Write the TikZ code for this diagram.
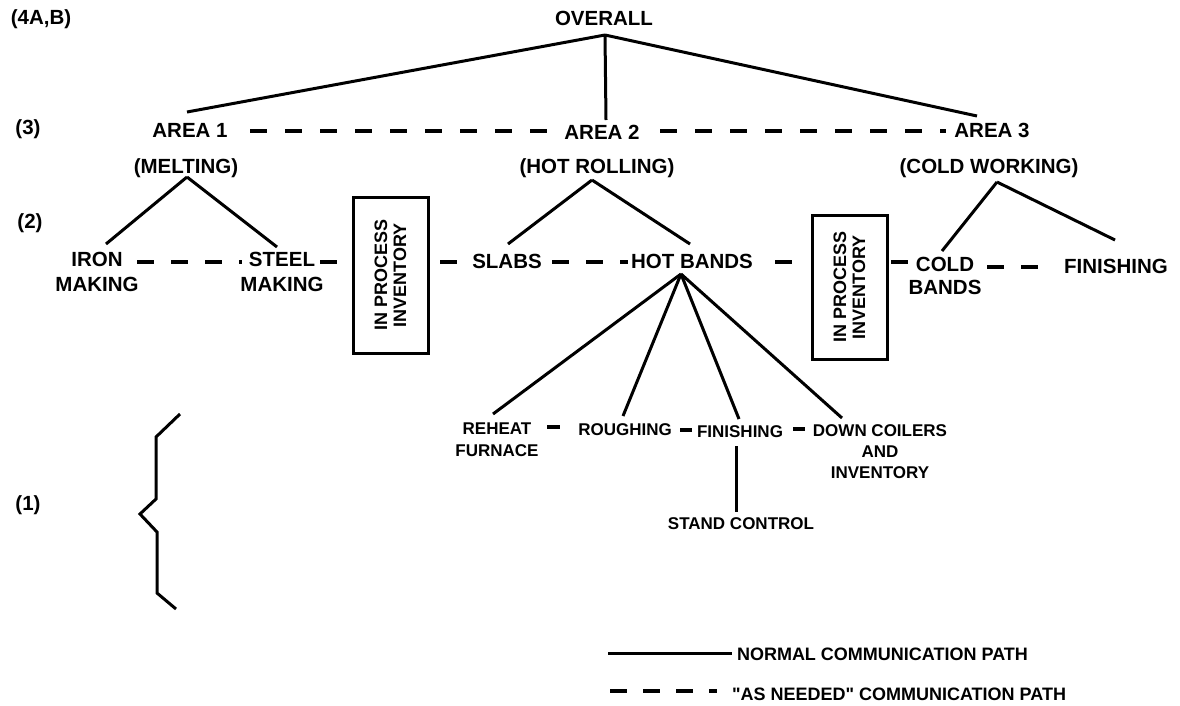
\documentclass[tikz,border=0pt]{standalone}
\usepackage{fontspec}
\setmainfont{Liberation Sans}
% same face without TeX quote ligatures, for straight double quotes
\newfontfamily\straightsans{Liberation Sans}[Ligatures=ResetAll]
\begin{document}
\begin{tikzpicture}[x=1pt,y=-1pt,
  every node/.style={inner sep=0pt, outer sep=0pt},
  big/.style={font=\bfseries\fontsize{20.5}{25}\selectfont, align=center},
  small/.style={font=\bfseries\fontsize{17}{22}\selectfont, align=center},
  legendtext/.style={font=\straightsans\bfseries\fontsize{18}{22}\selectfont},
  invbox/.style={draw, line width=3pt, rotate=90, align=center,
    font=\bfseries\fontsize{18}{19}\selectfont},
  normal/.style={line width=3pt},
  asneeded/.style={line width=4pt, dash pattern=on 17pt off 17pt}
]
\useasboundingbox (0,0) rectangle (1180,705);

% level markers
\node[big, anchor=base] (lvl4) at (41,24) {(4A,B)};
\node[big, anchor=base] (lvl3) at (28,134) {(3)};
\node[big, anchor=base] (lvl2) at (30,228) {(2)};
\node[big, anchor=base] (lvl1) at (28,510) {(1)};

% level 4 and 3
\node[big, anchor=base] (overall) at (604,25) {OVERALL};
\node[big, anchor=base] (area1) at (190,137) {AREA 1};
\node[big, anchor=base] (area2) at (602,139) {AREA 2};
\node[big, anchor=base] (area3) at (992,137) {AREA 3};
\node[big, anchor=base] (melting) at (186,173) {(MELTING)};
\node[big, anchor=base] (hotroll) at (597,173) {(HOT ROLLING)};
\node[big, anchor=base] (coldwork) at (989,173) {(COLD WORKING)};

% level 2
\node[big, anchor=south] (iron) at (97,292) {IRON\\MAKING};
\node[big, anchor=south] (steel) at (282,292) {STEEL\\MAKING};
\node[invbox, minimum width=156pt, minimum height=75pt] (inv1) at (390.5,275) {IN PROCESS\\INVENTORY};
\node[big, anchor=base] (slabs) at (507,268) {SLABS};
\node[big, anchor=base] (hotbands) at (692,268) {HOT BANDS};
\node[invbox, minimum width=144pt, minimum height=75pt] (inv2) at (849.5,287) {IN PROCESS\\INVENTORY};
\node[big, anchor=south, font=\bfseries\fontsize{20.5}{23}\selectfont] (cold) at (945,295) {COLD\\BANDS};
\node[big, anchor=base] (finish2) at (1116,273) {FINISHING};

% level 1
\node[small, anchor=south] (reheat) at (497,457) {REHEAT\\FURNACE};
\node[small, anchor=base] (rough) at (625,435) {ROUGHING};
\node[small, anchor=base] (finish1) at (740,437) {FINISHING};
\node[small, anchor=south, font=\bfseries\fontsize{17}{21}\selectfont] (coilers) at (880,479) {DOWN COILERS\\AND\\INVENTORY};
\node[small, anchor=base] (stand) at (741,529) {STAND CONTROL};

% connector end points
\coordinate (overall-s) at (605,35);
\coordinate (area1-n) at (187,112);
\coordinate (area2-n) at (606,120);
\coordinate (area3-n) at (977,116);
\coordinate (melting-s) at (187,177);
\coordinate (iron-n) at (106,244);
\coordinate (steel-n) at (277,247);
\coordinate (hotroll-s) at (592,180);
\coordinate (slabs-n) at (508,244);
\coordinate (hotbands-n) at (690,244);
\coordinate (coldwork-s) at (997,182);
\coordinate (cold-n) at (942,251);
\coordinate (finish2-n) at (1115,240);
\coordinate (hotbands-s) at (681,274);
\coordinate (reheat-n) at (493,414);
\coordinate (rough-n) at (623,416);
\coordinate (finish1-n) at (739,419);
\coordinate (coilers-n) at (842,418);
\coordinate (finish1-s) at (736,446);
\coordinate (stand-n) at (736,512);

% normal communication paths
\draw[normal] (overall-s) -- (area1-n);
\draw[normal] (overall-s) -- (area2-n);
\draw[normal] (overall-s) -- (area3-n);
\draw[normal] (melting-s) -- (iron-n);
\draw[normal] (melting-s) -- (steel-n);
\draw[normal] (hotroll-s) -- (slabs-n);
\draw[normal] (hotroll-s) -- (hotbands-n);
\draw[normal] (coldwork-s) -- (cold-n);
\draw[normal] (coldwork-s) -- (finish2-n);
\draw[normal] (hotbands-s) -- (reheat-n);
\draw[normal] (hotbands-s) -- (rough-n);
\draw[normal] (hotbands-s) -- (finish1-n);
\draw[normal] (hotbands-s) -- (coilers-n);
\draw[normal] (finish1-s) -- (stand-n);

% "as needed" communication paths
\coordinate (a1e) at (250,131);
\coordinate (a2w) at (547,131);
\coordinate (a2e) at (660,131);
\coordinate (a3w) at (946,131);
\draw[asneeded, dash pattern=on 17pt off 18pt] (a1e) -- (a2w);
\draw[asneeded, dash pattern=on 17pt off 18pt] (a2e) -- (a3w);
\draw[asneeded] (137,262) coordinate (ironE) -- (242,262) coordinate (steelW);
\draw[asneeded] (320,262) coordinate (steelE) -- (inv1.north |- 0,262);
\draw[asneeded] (inv1.south |- 0,262) ++(12,0) -- (457,262) coordinate (slabsW);
\draw[asneeded] (552,262) coordinate (slabsE) -- (628,262) coordinate (hotbandsW);
\draw[asneeded] (775,262) coordinate (hotbandsE) -- (792,262);
\draw[asneeded] (inv2.south |- 0,262) ++(4,0) -- (908,262) coordinate (coldW);
\draw[asneeded] (987,267) coordinate (coldE) -- (1038,267) coordinate (finish2W);
\draw[asneeded] (547,427) coordinate (reheatE) -- (560,427) coordinate (roughW);
\draw[asneeded] (680,430) coordinate (roughE) -- (692,430) coordinate (finish1W);
\draw[asneeded] (793,429) coordinate (finish1E) -- (805,429) coordinate (coilersW);

% level 1 brace
\draw[normal, line join=miter] (180,414) -- (156,437) -- (156,499) -- (140,514)
  -- (157,532) -- (157,593) -- (176,609);

% legend
\node[legendtext, anchor=base west] (normlabel) at (737,660) {NORMAL COMMUNICATION PATH};
\node[legendtext, anchor=base west] (needlabel) at (732,700) {"AS NEEDED" COMMUNICATION PATH};
\coordinate (normstart) at (608,653);
\coordinate (normend) at (732,653);
\coordinate (needstart) at (610,691);
\coordinate (needend) at (717,691);
\draw[normal] (normstart) -- (normend);
\draw[asneeded, dash pattern=on 17pt off 16pt] (needstart) -- (needend);
\end{tikzpicture}
\end{document}
